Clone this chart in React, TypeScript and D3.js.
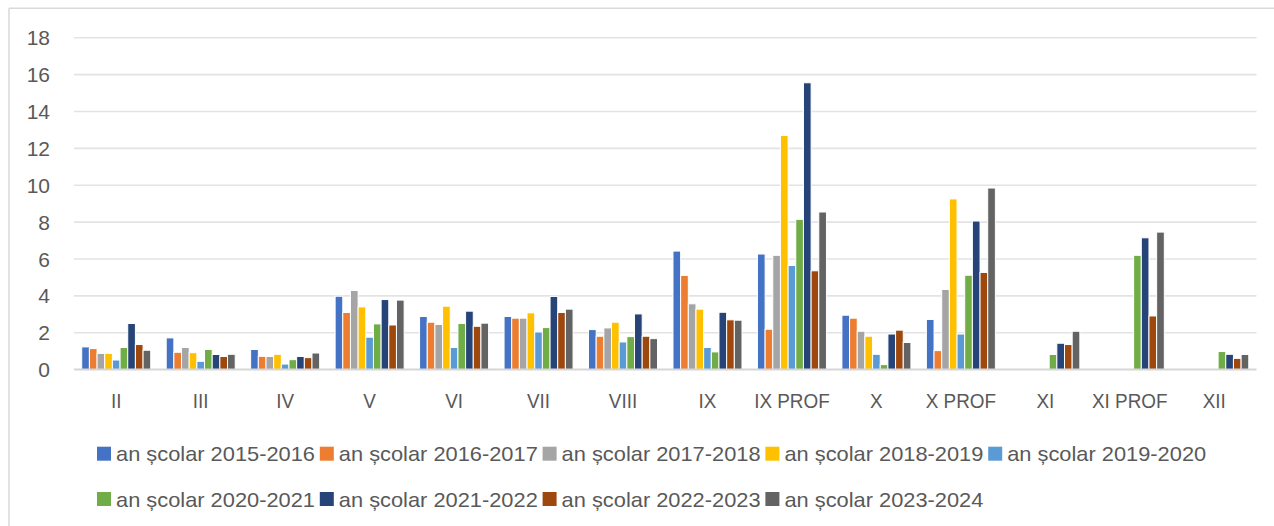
import React from "react";
import * as d3 from "d3";

const categories = ["II", "III", "IV", "V", "VI", "VII", "VIII", "IX", "IX PROF", "X", "X PROF", "XI", "XI PROF", "XII"];

const seriesNames = [
  "an școlar 2015-2016",
  "an școlar 2016-2017",
  "an școlar 2017-2018",
  "an școlar 2018-2019",
  "an școlar 2019-2020",
  "an școlar 2020-2021",
  "an școlar 2021-2022",
  "an școlar 2022-2023",
  "an școlar 2023-2024",
];

const s2015 = [1.23, 1.72, 1.09, 3.98, 2.88, 2.88, 2.17, 6.43, 6.27, 2.95, 2.72, null, null, null];
const s2016 = [1.14, 0.94, 0.72, 3.1, 2.57, 2.79, 1.81, 5.11, 2.19, 2.79, 1.03, null, null, null];
const s2017 = [0.88, 1.2, 0.71, 4.29, 2.45, 2.79, 2.26, 3.57, 6.2, 2.08, 4.35, null, null, null];
const s2018 = [0.88, 0.92, 0.83, 3.4, 3.44, 3.08, 2.57, 3.28, 12.7, 1.81, 9.26, null, null, null];
const s2019 = [0.52, 0.45, 0.3, 1.76, 1.2, 2.04, 1.5, 1.2, 5.65, 0.83, 1.93, null, null, null];
const s2020 = [1.2, 1.09, 0.54, 2.48, 2.5, 2.28, 1.79, 0.96, 8.15, 0.27, 5.12, 0.82, 6.2, 0.98];
const s2021 = [2.5, 0.82, 0.71, 3.8, 3.17, 3.97, 3.02, 3.11, 15.56, 1.93, 8.06, 1.43, 7.15, 0.83];
const s2022 = [1.36, 0.71, 0.65, 2.42, 2.35, 3.1, 1.81, 2.7, 5.36, 2.14, 5.27, 1.36, 2.91, 0.61];
const s2023 = [1.05, 0.83, 0.9, 3.77, 2.52, 3.28, 1.68, 2.68, 8.55, 1.47, 9.85, 2.08, 7.46, 0.82];

const seriesValues = [s2015, s2016, s2017, s2018, s2019, s2020, s2021, s2022, s2023];

const colors = ["#4472C4", "#ED7D31", "#A5A5A5", "#FFC000", "#5B9BD5", "#70AD47", "#264478", "#9E480E", "#636363"];

const yTicks = [0, 2, 4, 6, 8, 10, 12, 14, 16, 18];

const W = 1274;
const H = 526;
const FONT = "'Liberation Sans', Arial, sans-serif";
const TEXT = "#595959";

export default function App() {
  const x0 = d3
    .scaleBand<string>()
    .domain(categories)
    .range([74, 1256.5])
    .paddingInner(0.183)
    .paddingOuter(0.0915);
  const x1 = d3
    .scaleBand<number>()
    .domain(d3.range(seriesNames.length))
    .range([0, x0.bandwidth()]);
  const y = d3.scaleLinear().domain([0, 18]).range([369.6, 37.8]);

  const legendRows = [
    [0, 1, 2, 3, 4],
    [5, 6, 7, 8],
  ];
  const legendRowY = [453.7, 499];
  const legendX0 = 97;
  const legendPitch = 222.8;

  return (
    <svg
      width={W}
      height={H}
      style={{ position: "absolute", left: 0, top: 0, background: "#fff" }}
      fontFamily={FONT}
    >
      <rect x={0} y={0} width={W} height={H} fill="#fff" />
      {/* outer frame */}
      <line x1={9} x2={W} y1={8.3} y2={8.3} stroke="#d9d9d9" strokeWidth={1.5} />
      <line x1={9} x2={9} y1={8.3} y2={H} stroke="#d9d9d9" strokeWidth={1.5} />

      {/* gridlines */}
      {yTicks.map((t) =>
        t === 0 ? null : (
          <line key={t} x1={74} x2={1256.5} y1={y(t)} y2={y(t)} stroke="#e3e3e3" strokeWidth={1.6} />
        )
      )}

      {/* y tick labels */}
      {yTicks.map((t) => (
        <text
          key={t}
          x={50}
          y={y(t)}
          textAnchor="end"
          dominantBaseline="central"
          fontSize={21}
          fill={TEXT}
        >
          {t}
        </text>
      ))}

      {/* bars */}
      {categories.map((c, ci) => (
        <g key={c} transform={`translate(${x0(c)},0)`}>
          {seriesValues.map((vals, si) => {
            const v = vals[ci];
            if (v == null || v === 0) return null;
            return (
              <rect
                key={si}
                x={x1(si)}
                y={y(v)}
                width={x1.bandwidth()}
                height={y(0) - y(v)}
                fill={colors[si]}
                stroke="#fff"
                strokeWidth={1}
              />
            );
          })}
        </g>
      ))}

      {/* axis line */}
      <line x1={74} x2={1256.5} y1={y(0)} y2={y(0)} stroke="#d6d6d6" strokeWidth={2} />

      {/* category labels */}
      {categories.map((c) => {
        const cx = (x0(c) as number) + x0.bandwidth() / 2;
        return (
          <text
            key={c}
            transform={`translate(${cx},400.5) scale(0.9,1)`}
            textAnchor="middle"
            dominantBaseline="central"
            fontSize={21}
            fill={TEXT}
          >
            {c}
          </text>
        );
      })}

      {/* legend */}
      {legendRows.map((row, ri) =>
        row.map((si, k) => {
          const lx = legendX0 + k * legendPitch;
          const ly = legendRowY[ri];
          return (
            <g key={si}>
              <rect x={lx} y={ly - 7} width={14} height={14} fill={colors[si]} />
              <text
                x={lx + 19}
                y={ly}
                dominantBaseline="central"
                fontSize={21}
                fill={TEXT}
                textLength={199}
                lengthAdjust="spacingAndGlyphs"
              >
                {seriesNames[si]}
              </text>
            </g>
          );
        })
      )}
    </svg>
  );
}
